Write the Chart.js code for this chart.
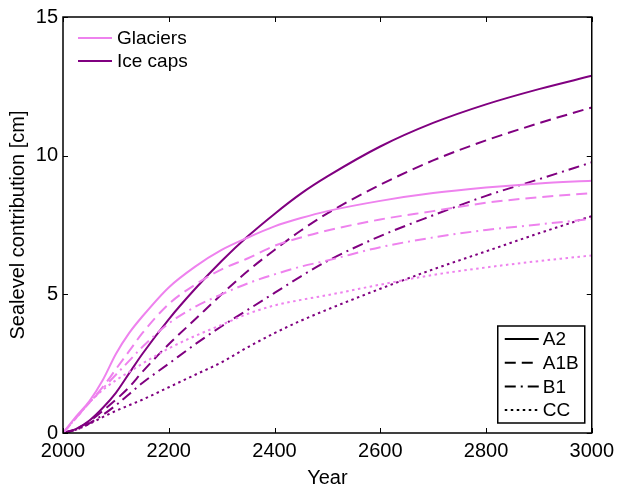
<!DOCTYPE html>
<html>
<head>
<meta charset="utf-8">
<script src="https://cdn.jsdelivr.net/npm/chart.js@4"></script>
<style>
  html, body { margin: 0; padding: 0; background: #fff; }
  #wrap { width: 620px; height: 492px; }
</style>
</head>
<body>
<div id="wrap"><canvas id="lineChart" width="620" height="492"></canvas></div>
<script>
const years = [2000, 2025, 2050, 2075, 2100, 2125, 2150, 2200, 2250, 2300, 2350, 2400, 2450, 2500, 2600, 2700, 2800, 2900, 3000];

const glacA2  = [0, 0.6, 1.15, 1.9, 2.85, 3.6, 4.2, 5.25, 6.0, 6.6, 7.05, 7.45, 7.75, 8.0, 8.37, 8.65, 8.85, 9.0, 9.1];
const glacA1B = [0, 0.55, 1.1, 1.65, 2.3, 2.95, 3.6, 4.65, 5.35, 5.9, 6.3, 6.75, 7.05, 7.3, 7.7, 8.0, 8.3, 8.5, 8.65];
const glacB1  = [0, 0.55, 1.1, 1.6, 2.1, 2.6, 3.1, 3.95, 4.55, 5.0, 5.4, 5.72, 6.0, 6.22, 6.7, 7.05, 7.32, 7.52, 7.72];
const glacCC  = [0, 0.55, 1.1, 1.55, 1.9, 2.2, 2.5, 3.05, 3.5, 3.9, 4.3, 4.6, 4.8, 4.97, 5.35, 5.7, 5.97, 6.2, 6.4];

const capsA2  = [0, 0.15, 0.45, 0.9, 1.45, 2.15, 2.85, 4.1, 5.2, 6.2, 7.1, 7.9, 8.63, 9.25, 10.33, 11.18, 11.85, 12.4, 12.88];
const capsA1B = [0, 0.15, 0.42, 0.8, 1.2, 1.65, 2.2, 3.2, 4.1, 5.0, 5.85, 6.6, 7.3, 7.92, 8.95, 9.83, 10.55, 11.17, 11.74];
const capsB1  = [0, 0.12, 0.35, 0.65, 1.0, 1.4, 1.8, 2.5, 3.2, 3.85, 4.45, 5.05, 5.65, 6.2, 7.1, 7.85, 8.55, 9.15, 9.76];
const capsCC  = [0, 0.12, 0.33, 0.57, 0.8, 1.0, 1.2, 1.65, 2.1, 2.55, 3.1, 3.6, 4.05, 4.45, 5.2, 5.9, 6.55, 7.2, 7.82];

const xTicks = [2000, 2200, 2400, 2600, 2800, 3000];
const yTicks = [0, 5, 10, 15];

const groupNames = ['Glaciers', 'Ice caps'];
const groupColors = ['#ee82ee', '#800080'];
const scenarioNames = ['A2', 'A1B', 'B1', 'CC'];
const scenarioDash = [[], [11, 6], [11, 5, 2, 5], [2.5, 3.5]];

const FONT = '"Liberation Sans", Arial, sans-serif';

function pts(vals) {
    return years.map((y, i) => ({ x: y, y: vals[i] }));
}

function makeSet(vals, group, scen) {
    return {
        label: groupNames[group] + ' ' + scenarioNames[scen],
        data: pts(vals),
        borderColor: groupColors[group],
        borderWidth: 2,
        borderDash: scenarioDash[scen],
        pointRadius: 0,
        cubicInterpolationMode: 'monotone',
        fill: false
    };
}

const frameAndLegends = {
    id: 'frameAndLegends',
    afterDatasetsDraw(chart) {
        const ctx = chart.ctx;
        const a = chart.chartArea;
        const xs = chart.scales.x, ys = chart.scales.y;
        ctx.save();
        ctx.strokeStyle = '#000';
        ctx.lineWidth = 1.5;
        ctx.setLineDash([]);
        ctx.strokeRect(a.left, a.top, a.right - a.left, a.bottom - a.top);
        // inward ticks, mirrored on top/right
        ctx.lineWidth = 1;
        ctx.beginPath();
        xTicks.forEach(v => {
            const px = Math.round(xs.getPixelForValue(v)) + 0.5;
            ctx.moveTo(px, a.bottom); ctx.lineTo(px, a.bottom - 5);
            ctx.moveTo(px, a.top); ctx.lineTo(px, a.top + 5);
        });
        yTicks.forEach(v => {
            const py = Math.round(ys.getPixelForValue(v)) + 0.5;
            ctx.moveTo(a.left, py); ctx.lineTo(a.left + 5, py);
            ctx.moveTo(a.right, py); ctx.lineTo(a.right - 5, py);
        });
        ctx.stroke();

        // legend: groups (top-left, no box)
        ctx.font = '19px ' + FONT;
        ctx.textBaseline = 'middle';
        ctx.fillStyle = '#000';
        ctx.lineWidth = 2;
        groupNames.forEach((name, i) => {
            const y = a.top + 21 + i * 23;
            ctx.strokeStyle = groupColors[i];
            ctx.beginPath();
            ctx.moveTo(a.left + 15, y); ctx.lineTo(a.left + 49, y);
            ctx.stroke();
            ctx.fillText(name, a.left + 54, y + 1);
        });

        // legend: scenarios (bottom-right, boxed)
        const bx = a.right - 94, by = a.bottom - 107, bw = 87, bh = 97;
        ctx.fillStyle = '#fff';
        ctx.fillRect(bx, by, bw, bh);
        ctx.strokeStyle = '#000';
        ctx.lineWidth = 1.5;
        ctx.strokeRect(bx, by, bw, bh);
        ctx.lineWidth = 2;
        ctx.fillStyle = '#000';
        scenarioNames.forEach((name, i) => {
            const y = by + 13 + i * 23.7;
            ctx.setLineDash(scenarioDash[i]);
            ctx.beginPath();
            ctx.moveTo(bx + 7, y); ctx.lineTo(bx + 41, y);
            ctx.stroke();
            ctx.setLineDash([]);
            ctx.fillText(name, bx + 45, y + 1);
        });
        ctx.restore();
    }
};

const ctx = document.getElementById('lineChart').getContext('2d');
new Chart(ctx, {
    type: 'line',
    data: {
        datasets: [
            makeSet(glacA2, 0, 0), makeSet(glacA1B, 0, 1), makeSet(glacB1, 0, 2), makeSet(glacCC, 0, 3),
            makeSet(capsA2, 1, 0), makeSet(capsA1B, 1, 1), makeSet(capsB1, 1, 2), makeSet(capsCC, 1, 3)
        ]
    },
    options: {
        responsive: false,
        animation: false,
        layout: { padding: { left: 6, right: 26, top: 8, bottom: 2 } },
        plugins: {
            legend: { display: false },
            tooltip: { enabled: false }
        },
        scales: {
            x: {
                type: 'linear',
                min: 2000,
                max: 3000,
                afterBuildTicks(scale) { scale.ticks = xTicks.map(v => ({ value: v })); },
                afterFit(scale) { scale.height = 57; },
                grid: { display: false, drawTicks: false },
                border: { display: false },
                ticks: { color: '#000', font: { family: FONT, size: 20 }, padding: 6, maxRotation: 0, callback: v => String(v) },
                title: { display: true, text: 'Year', color: '#000', font: { family: FONT, size: 20 }, padding: { top: 0, bottom: 0 } }
            },
            y: {
                min: 0,
                max: 15,
                afterBuildTicks(scale) { scale.ticks = yTicks.map(v => ({ value: v })); },
                afterFit(scale) { scale.width = 57; },
                grid: { display: false, drawTicks: false },
                border: { display: false },
                ticks: { color: '#000', font: { family: FONT, size: 20 }, padding: 5 },
                title: { display: true, text: 'Sealevel contribution [cm]', color: '#000', font: { family: FONT, size: 20 }, padding: { top: 0, bottom: 0 } }
            }
        }
    },
    plugins: [frameAndLegends]
});
</script>
</body>
</html>
